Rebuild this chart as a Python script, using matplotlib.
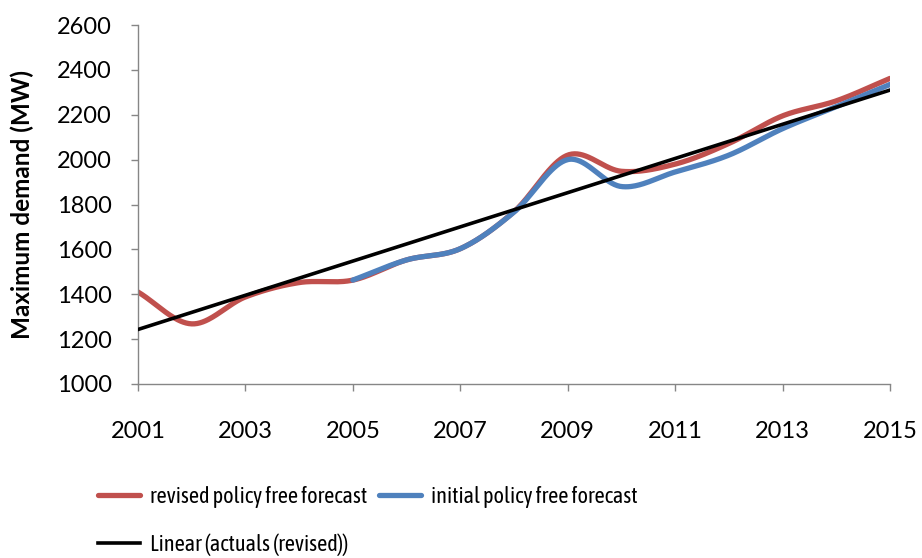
import numpy as np
import matplotlib
matplotlib.use("Agg")
import matplotlib.pyplot as plt
from matplotlib.lines import Line2D

plt.rcParams['font.family'] = ['Lato', 'DejaVu Sans']

years_revised = [2001, 2002, 2003, 2004, 2005, 2006, 2007, 2008, 2009, 2010, 2011, 2012, 2013, 2014, 2015]
revised = [1410, 1268, 1388, 1452, 1463, 1553, 1603, 1768, 2020, 1948, 1980, 2072, 2195, 2262, 2362]

years_initial = [2005, 2006, 2007, 2008, 2009, 2010, 2011, 2012, 2013, 2014, 2015]
initial = [1463, 1553, 1603, 1766, 2000, 1880, 1945, 2020, 2138, 2236, 2335]

trend_years = [2001, 2015]
trend_values = [1243, 2310]

xticks = [2001, 2003, 2005, 2007, 2009, 2011, 2013, 2015]
yticks = [1000, 1200, 1400, 1600, 1800, 2000, 2200, 2400, 2600]


def smooth(x, y, n=40):
    # Catmull-Rom style smoothing (similar to spreadsheet "smoothed line")
    x = np.asarray(x, float)
    y = np.asarray(y, float)
    px = np.concatenate([[2 * x[0] - x[1]], x, [2 * x[-1] - x[-2]]])
    py = np.concatenate([[2 * y[0] - y[1]], y, [2 * y[-1] - y[-2]]])
    xs, ys = [], []
    t = np.linspace(0, 1, n)
    for i in range(1, len(px) - 2):
        p0, p1, p2, p3 = (np.array([px[j], py[j]]) for j in (i - 1, i, i + 1, i + 2))
        m1 = (p2 - p0) / 6.0
        m2 = (p3 - p1) / 6.0
        c1 = p1 + m1
        c2 = p2 - m2
        b = ((1 - t) ** 3)[:, None] * p1 + (3 * (1 - t) ** 2 * t)[:, None] * c1 \
            + (3 * (1 - t) * t ** 2)[:, None] * c2 + (t ** 3)[:, None] * p2
        xs.append(b[:, 0])
        ys.append(b[:, 1])
    return np.concatenate(xs), np.concatenate(ys)


fig = plt.figure(figsize=(9.22, 5.58), dpi=100)
ax = fig.add_axes([138 / 922, 1 - 384 / 558, (890 - 138) / 922, (384 - 25) / 558])

red = '#C0504D'
blue = '#4F81BD'

sx, sy = smooth(years_revised, revised)
ax.plot(sx, sy, color=red, lw=3.8, solid_capstyle='round', zorder=2)
sx, sy = smooth(years_initial, initial)
ax.plot(sx, sy, color=blue, lw=3.8, solid_capstyle='round', zorder=3)
ax.plot(trend_years, trend_values, color='black', lw=2.6, zorder=4)

ax.set_xlim(2001, 2015)
ax.set_ylim(1000, 2600)
ax.set_xticks(xticks)
ax.set_yticks(yticks)
ax.tick_params(labelsize=17, length=5, width=1, color='#868686', direction='out')
ax.tick_params(axis='y', pad=14)
ax.tick_params(axis='x', pad=22)
for s in ['top', 'right']:
    ax.spines[s].set_visible(False)
for s in ['left', 'bottom']:
    ax.spines[s].set_color('#868686')
    ax.spines[s].set_linewidth(1)

ax.set_ylabel('Maximum demand (MW)', fontsize=17.5, fontweight='bold', labelpad=16)

h_red = Line2D([], [], color=red, lw=3.8, solid_capstyle='round')
h_blue = Line2D([], [], color=blue, lw=3.8, solid_capstyle='round')
h_black = Line2D([], [], color='black', lw=2.6)
fig.legend([h_red, h_black, h_blue],
           ['revised policy free forecast', 'Linear (actuals (revised))', 'initial policy free forecast'],
           ncol=2, loc='upper left', bbox_to_anchor=(98 / 922, 1 - 486 / 558),
           frameon=False, prop={'family': ['Asap Condensed', 'Lato'], 'size': 16},
           handlelength=1.9, handletextpad=0.45,
           columnspacing=0.5, labelspacing=1.15, borderaxespad=0, borderpad=0)

fig.savefig('out.png', dpi=100)
